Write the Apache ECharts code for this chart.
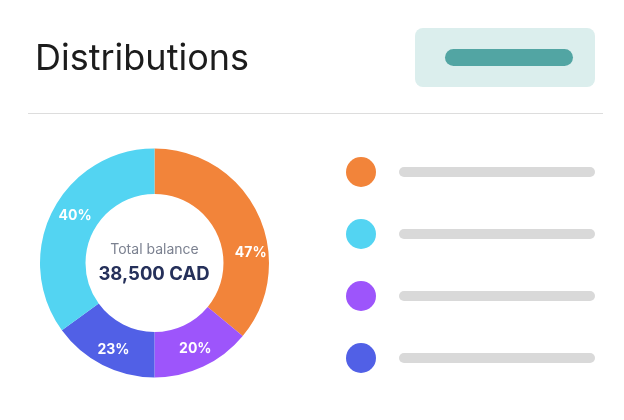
<!DOCTYPE html>
<html><head><meta charset="utf-8">
<script src="https://cdn.jsdelivr.net/npm/echarts@6/dist/echarts.min.js"></script>
<style>html,body{margin:0;padding:0;background:#fff}#c{width:624px;height:420px}</style>
</head><body><div id="c"></div>
<script>
var categories = ['Segment A', 'Segment B', 'Segment C', 'Segment D'];
var shares = [36, 14, 15, 35];
var shareLabels = ['47%', '20%', '23%', '40%'];
var colors = ['#f2843a', '#9d55fb', '#5160e6', '#53d4f2'];
var legendOrder = [0, 3, 1, 2];
var centerTitle = 'Total balance';
var centerValue = '38,500 CAD';

var chart = echarts.init(document.getElementById('c'), null, {renderer: 'canvas'});
var F = 'Inter, "Noto Sans", sans-serif';
chart.setOption({
  animation: false,
  textStyle: {fontFamily: F},
  title: {text: 'Distributions', left: 30, top: 36, textStyle: {fontFamily: F, fontSize: 36, fontWeight: 'normal', color: '#1c1c1c'}},
  legend: {
    orient: 'vertical', left: 341, top: 152, icon: 'circle',
    itemWidth: 30, itemHeight: 30, itemGap: 32,
    data: legendOrder.map(function (i) { return categories[i]; }),
    selectedMode: false,
    formatter: function () { return '{g|}{b|}'; },
    textStyle: {rich: {g: {width: 18, height: 10}, b: {width: 196, height: 10, backgroundColor: '#d9d9d9', borderRadius: 5}}}
  },
  graphic: [
    {type: 'rect', shape: {x: 28, y: 113, width: 575, height: 1}, style: {fill: '#dddddd'}},
    {type: 'rect', shape: {x: 415, y: 28, width: 180, height: 59, r: 8}, style: {fill: '#dbeeed'}},
    {type: 'rect', shape: {x: 445, y: 49, width: 128, height: 17, r: 8.5}, style: {fill: '#52a5a3'}},
    {type: 'text', x: 154.5, y: 249.5, style: {text: centerTitle, fontFamily: F, fontSize: 14, fill: '#7b8190', align: 'center', verticalAlign: 'middle'}},
    {type: 'text', x: 154, y: 274.5, style: {text: centerValue, fontFamily: F, fontSize: 18.5, fontWeight: 'bold', fill: '#25305a', align: 'center', verticalAlign: 'middle'}}
  ],
  series: [{
    type: 'pie', center: [154.5, 263], radius: [69, 114.5], startAngle: 90, clockwise: true,
    silent: true,
    itemStyle: {borderWidth: 0},
    label: {position: 'inside', color: '#fff', fontFamily: F, fontSize: 14, fontWeight: 'bold',
      formatter: function (p) { return shareLabels[p.dataIndex]; }},
    labelLine: {show: false},
    labelLayout: function (p) {
      var shift = [[10.5, 30], [0.5, 0.5], [2, 2], [5, -4]][p.dataIndex];
      return {dx: shift[0], dy: shift[1]};
    },
    data: categories.map(function (n, i) { return {name: n, value: shares[i], itemStyle: {color: colors[i]}}; })
  }]
});
</script></body></html>
